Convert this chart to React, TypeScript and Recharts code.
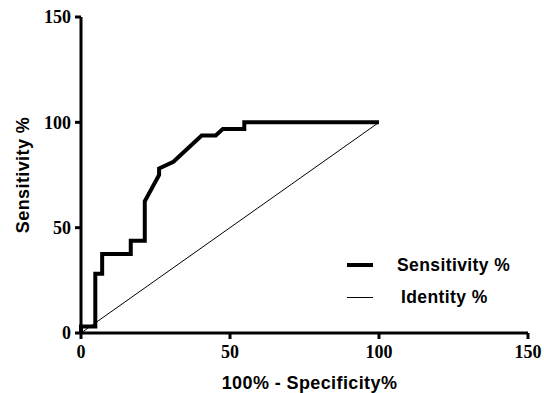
import { LineChart, Line, XAxis, YAxis, Label } from "recharts";

// ROC curve points: 100% - specificity (x) vs sensitivity (y)
const specificityPct = [0, 0, 4.8, 4.8, 7.1, 7.1, 16.7, 16.7, 21.4, 21.4, 26.2, 26.2, 31, 40.5, 45.2, 47.6, 54.8, 54.8, 100];
const sensitivityPct = [0, 3.125, 3.125, 28.125, 28.125, 37.5, 37.5, 43.75, 43.75, 62.5, 75, 78.125, 81.25, 93.75, 93.75, 96.875, 96.875, 100, 100];

const identityX = [0, 100];
const identityY = [0, 100];

const ticks = [0, 50, 100, 150];

const rocData = specificityPct.map((x, i) => ({ x, y: sensitivityPct[i] }));
const identityData = identityX.map((x, i) => ({ x, y: identityY[i] }));

const tickStyle = {
    fontFamily: "'Liberation Serif', serif",
    fontWeight: "bold",
    fontSize: 18,
    fill: "#000",
};

const titleStyle = {
    fontFamily: "'Liberation Sans', Arial, sans-serif",
    fontWeight: "bold",
    fontSize: 18,
    letterSpacing: 0.4,
    fill: "#000",
};

function ChartLegend() {
    const text = {
        fontFamily: "'Liberation Sans', Arial, sans-serif",
        fontWeight: "bold" as const,
        fontSize: 17.5,
        letterSpacing: 0.4,
        color: "#000",
    };
    return (
        <div style={{ position: "absolute", left: 347, top: 249, ...text }}>
            <div style={{ display: "flex", alignItems: "center", height: 32 }}>
                <div style={{ width: 26, height: 4, background: "#000", marginRight: 24 }} />
                <span>Sensitivity %</span>
            </div>
            <div style={{ display: "flex", alignItems: "center", height: 32 }}>
                <div style={{ width: 26, height: 1, background: "#000", marginRight: 28 }} />
                <span>Identity %</span>
            </div>
        </div>
    );
}

export default function App() {
    return (
        <div style={{ position: "absolute", left: 0, top: 0, width: 544, height: 393, background: "#fff" }}>
            <LineChart
                width={544}
                height={393}
                margin={{ top: 17, right: 16, bottom: 2, left: 21 }}
            >
                <XAxis
                    type="number"
                    dataKey="x"
                    domain={[0, 150]}
                    ticks={ticks}
                    axisLine={{ stroke: "#000", strokeWidth: 3 }}
                    tickLine={{ stroke: "#000", strokeWidth: 3 }}
                    tickSize={6}
                    tickMargin={6}
                    tick={tickStyle}
                    height={58}
                >
                    <Label
                        value="100% - Specificity%"
                        position="insideBottom"
                        offset={2}
                        dx={5}
                        style={titleStyle}
                    />
                </XAxis>
                <YAxis
                    type="number"
                    dataKey="y"
                    domain={[0, 150]}
                    ticks={ticks}
                    axisLine={{ stroke: "#000", strokeWidth: 3 }}
                    tickLine={{ stroke: "#000", strokeWidth: 3 }}
                    tickSize={6}
                    tickMargin={4}
                    tick={tickStyle}
                    width={60}
                >
                    <Label
                        value="Sensitivity %"
                        angle={-90}
                        position="insideLeft"
                        offset={2}
                        style={{ ...titleStyle, textAnchor: "middle" }}
                    />
                </YAxis>
                <Line
                    data={rocData}
                    dataKey="y"
                    type="linear"
                    stroke="#000"
                    strokeWidth={4}
                    strokeLinejoin="miter"
                    dot={false}
                    isAnimationActive={false}
                />
                <Line
                    data={identityData}
                    dataKey="y"
                    type="linear"
                    stroke="#000"
                    strokeWidth={1}
                    dot={false}
                    isAnimationActive={false}
                />
            </LineChart>
            <ChartLegend />
        </div>
    );
}
